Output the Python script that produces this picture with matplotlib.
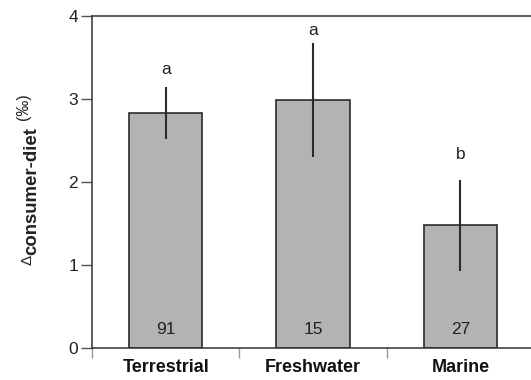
import numpy as np
import matplotlib.pyplot as plt

plt.rcParams['font.family'] = ['Liberation Sans', 'DejaVu Sans']

# data
categories = ['Terrestrial', 'Freshwater', 'Marine']
means = [2.83, 2.99, 1.48]
errors = [0.31, 0.69, 0.55]
letters = ['a', 'a', 'b']
letter_y = [3.35, 3.82, 2.33]
counts = ['91', '15', '27']
count_y = 0.22

x = np.arange(len(categories))

fig = plt.figure(figsize=(5.31, 3.80), dpi=100)
# axes runs a little past the right edge, as in the reference
ax = fig.add_axes([92 / 531, 32 / 380, 442 / 531, 332 / 380])

ax.bar(x, means, width=0.5, color='#b3b3b3', edgecolor='#2b2b2b', linewidth=1.2, zorder=2)
ax.errorbar(x, means, yerr=errors, fmt='none', ecolor='#2b2b2b', elinewidth=1.5, capsize=0, zorder=3)

for xi, lab, ly in zip(x, letters, letter_y):
    ax.text(xi, ly, lab, ha='center', va='center', fontsize=12.5, color='#222222')
for xi, c in zip(x, counts):
    ax.text(xi, count_y, c, ha='center', va='center', fontsize=12.5, color='#222222')

ax.set_xlim(-0.5, 2.5)
ax.set_ylim(0, 4)
ax.set_yticks([0, 1, 2, 3, 4])
ax.tick_params(axis='y', length=8, width=1, color='#555555', labelsize=12.5, pad=2, labelcolor='#222222')

# category labels without marks, boundary marks as minor ticks
ax.set_xticks(x)
ax.set_xticklabels(categories, fontsize=13, fontweight='bold', color='#111111')
ax.tick_params(axis='x', which='major', length=0, pad=8)
ax.set_xticks([-0.5, 0.5, 1.5, 2.5], minor=True)
ax.tick_params(axis='x', which='minor', length=7, width=1, color='#999999')

for side in ['left', 'top', 'bottom']:
    ax.spines[side].set_linewidth(1.1)
    ax.spines[side].set_color('#333333')
ax.spines['right'].set_visible(False)

# y-axis label pieces (delta, bold subscript, raised unit)
fig.text(27 / 531, 1 - 260 / 380, '\u0394', rotation=90, ha='center', va='center', fontsize=11, color='#222222')
fig.text(32 / 531, 1 - 191 / 380, 'consumer-diet', rotation=90, ha='center', va='center',
         fontsize=13.4, fontweight='bold', color='#222222')
fig.text(23 / 531, 1 - 107 / 380, '(\u2030)', rotation=90, ha='center', va='center', fontsize=11.5, color='#222222')

fig.savefig('out.png', dpi=100)
